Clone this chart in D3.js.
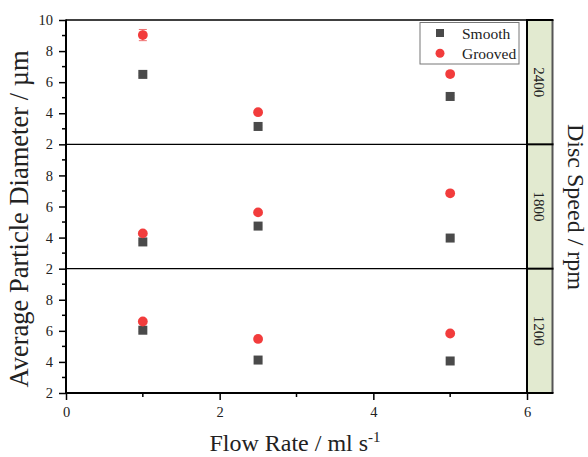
<!DOCTYPE html>
<html><head><meta charset="utf-8">
<script src="https://cdn.jsdelivr.net/npm/d3@7"></script>
<style>body{margin:0;background:#fff}svg{display:block}text{font-family:"Liberation Serif","Times New Roman",serif;fill:#222}</style>
</head><body>
<script>
const flowRates = [1, 2.5, 5];
const panels = ["2400", "1800", "1200"];
const smooth = {"2400": [6.5, 3.15, 5.08], "1800": [3.72, 4.74, 3.97], "1200": [6.04, 4.12, 4.06]};
const grooved = {"2400": [9.03, 4.07, 6.52], "1800": [4.27, 5.62, 6.85], "1200": [6.6, 5.48, 5.83]};
const groovedErr = {"2400": [0.36, 0.1, 0.12], "1800": [0.1, 0.1, 0.15], "1200": [0.1, 0.08, 0.1]};
const smoothErr = {"2400": [0.08, 0.06, 0.06], "1800": [0.08, 0.06, 0.06], "1200": [0.08, 0.06, 0.06]};
const xTicks = [0, 2, 4, 6];
const yTicks = [2, 4, 6, 8, 10];

const W = 588, H = 457;
const L = 66, R = 527, T = 20, B = 393;
const FONT = "Liberation Serif";
const svg = d3.select("body").append("svg").attr("width", W).attr("height", H)
  .attr("font-family", FONT);
const x = d3.scaleLinear().domain([0, 6]).range([L, R]);
const ph = (B - T) / 3;

const stripW = 25.5;
panels.forEach((p, i) => {
  const y0 = T + i * ph;
  svg.append("rect").attr("x", R).attr("y", y0).attr("width", stripW).attr("height", ph)
    .attr("fill", "#e2ead0");
  svg.append("text").attr("transform", `translate(534,${y0 + ph / 2}) rotate(90)`)
    .attr("text-anchor", "middle").attr("font-size", 15).text(p);
});
svg.append("line").attr("x1", R + stripW).attr("x2", R + stripW).attr("y1", T).attr("y2", B)
  .attr("stroke", "#555").attr("stroke-width", 2);

panels.forEach((p, i) => {
  const y0 = T + i * ph;
  const y = d3.scaleLinear().domain([2, 10]).range([y0 + ph, y0]);
  svg.append("line").attr("x1", L).attr("x2", R).attr("y1", y0).attr("y2", y0)
    .attr("stroke", "#000").attr("stroke-width", 1.3);
  svg.append("line").attr("x1", R).attr("x2", R + stripW + 1).attr("y1", y0).attr("y2", y0)
    .attr("stroke", "#000").attr("stroke-width", 2);
  const ticks = i === 0 ? yTicks : yTicks.filter(v => v < 10);
  const ax = d3.axisLeft(y).tickValues(ticks).tickSize(7).tickPadding(6).tickFormat(d3.format("d"));
  const g = svg.append("g").attr("transform", `translate(${L},0)`).call(ax);
  g.select(".domain").remove();
  g.attr("font-family", FONT);
  g.selectAll(".tick line").attr("stroke", "#000").attr("stroke-width", 1.5);
  g.selectAll(".tick text").attr("font-size", 14.5).attr("fill", "#222");
  svg.append("g").selectAll("line").data([3, 5, 7, 9]).join("line")
    .attr("x1", L - 4).attr("x2", L).attr("y1", d => y(d)).attr("y2", d => y(d))
    .attr("stroke", "#000").attr("stroke-width", 1.5);

  const eb = (vals, errs, color) => {
    const gg = svg.append("g").attr("stroke", color).attr("stroke-width", 1);
    flowRates.forEach((f, k) => {
      const cx = x(f), top = y(vals[k] + errs[k]), bot = y(vals[k] - errs[k]);
      gg.append("line").attr("x1", cx).attr("x2", cx).attr("y1", top).attr("y2", bot);
      gg.append("line").attr("x1", cx - 4).attr("x2", cx + 4).attr("y1", top).attr("y2", top);
      gg.append("line").attr("x1", cx - 4).attr("x2", cx + 4).attr("y1", bot).attr("y2", bot);
    });
  };
  eb(smooth[p], smoothErr[p], "#888");
  eb(grooved[p], groovedErr[p], "#f07070");
  svg.append("g").selectAll("rect").data(smooth[p]).join("rect")
    .attr("x", (d, k) => x(flowRates[k]) - 4.5).attr("y", d => y(d) - 4.5)
    .attr("width", 9).attr("height", 9).attr("fill", "#4a4a4a");
  svg.append("g").selectAll("circle").data(grooved[p]).join("circle")
    .attr("cx", (d, k) => x(flowRates[k])).attr("cy", d => y(d)).attr("r", 4.9)
    .attr("fill", "#f23c3c");
});

svg.append("line").attr("x1", L).attr("x2", L).attr("y1", T - 0.5).attr("y2", B + 1)
  .attr("stroke", "#000").attr("stroke-width", 2);
svg.append("line").attr("x1", R).attr("x2", R).attr("y1", T - 1).attr("y2", B + 1)
  .attr("stroke", "#000").attr("stroke-width", 2);
svg.append("line").attr("x1", L - 1).attr("x2", R + stripW + 1).attr("y1", B).attr("y2", B)
  .attr("stroke", "#000").attr("stroke-width", 2);

const xa = d3.axisBottom(x).tickValues(xTicks).tickSize(7).tickPadding(7).tickFormat(d3.format("d"));
const gx = svg.append("g").attr("transform", `translate(0,${B})`).call(xa);
gx.select(".domain").remove();
gx.attr("font-family", FONT);
gx.selectAll(".tick line").attr("stroke", "#000").attr("stroke-width", 1.5);
gx.selectAll(".tick text").attr("font-size", 14.5).attr("fill", "#222");
svg.append("g").selectAll("line").data([1, 3, 5]).join("line")
  .attr("x1", d => x(d)).attr("x2", d => x(d)).attr("y1", B).attr("y2", B + 4)
  .attr("stroke", "#000").attr("stroke-width", 1.5);

const xt = svg.append("text").attr("x", 295).attr("y", 451).attr("text-anchor", "middle").attr("font-size", 24);
xt.append("tspan").text("Flow Rate / ml s");
xt.append("tspan").attr("dy", -9).attr("font-size", 15).text("-1");
svg.append("text").attr("transform", `translate(28,219) rotate(-90)`)
  .attr("text-anchor", "middle").attr("font-size", 26.5).text("Average Particle Diameter / µm");
svg.append("text").attr("transform", `translate(568,207) rotate(90)`)
  .attr("text-anchor", "middle").attr("font-size", 24).text("Disc Speed / rpm");

const lg = svg.append("g");
lg.append("rect").attr("x", 420).attr("y", 22.5).attr("width", 99).attr("height", 41.5)
  .attr("fill", "#fff").attr("stroke", "#777").attr("stroke-width", 1);
lg.append("rect").attr("x", 436).attr("y", 29).attr("width", 8).attr("height", 8).attr("fill", "#4a4a4a");
lg.append("circle").attr("cx", 440).attr("cy", 53.3).attr("r", 4.5).attr("fill", "#f23c3c");
lg.append("text").attr("x", 462).attr("y", 39).attr("font-size", 15.5).text("Smooth");
lg.append("text").attr("x", 462).attr("y", 58.5).attr("font-size", 15.5).text("Grooved");
</script>
</body></html>
